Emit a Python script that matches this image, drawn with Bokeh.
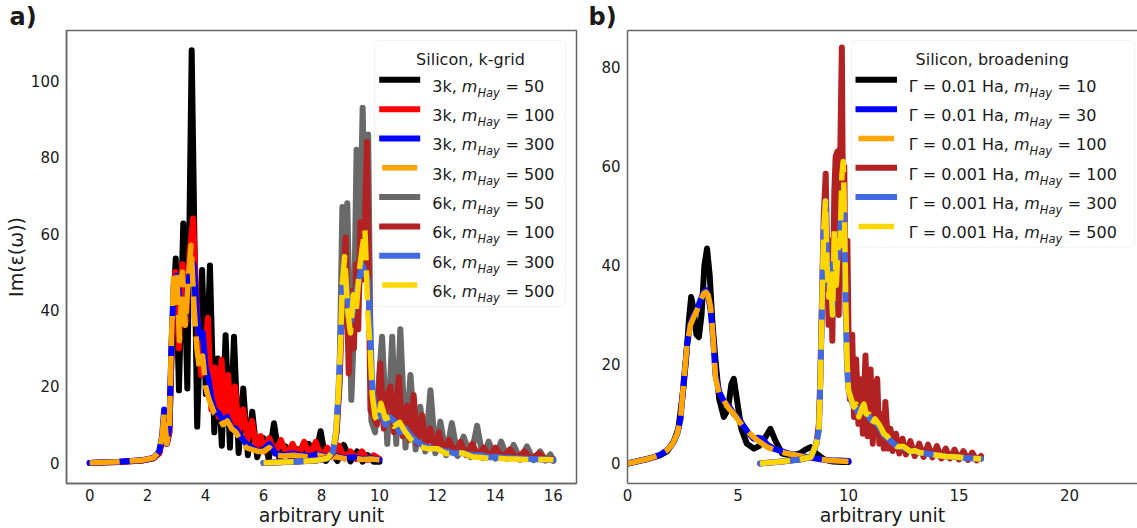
from bokeh.plotting import figure
from bokeh.layouts import row
from bokeh.models import Range1d, FixedTicker, Label, BoxAnnotation, LinearAxis, Title
from bokeh.embed import file_html
from bokeh.resources import INLINE

# ---------------- data ----------------
# panel a) Silicon, k-grid  (x, Im eps)
A_3K_M50 = [(0, 0), (1.0, 0.2), (1.8, 0.6), (2.2, 1.2), (2.4, 2.5), (2.5, 6), (2.58, 12), (2.66, 5), (2.75, 8),
            (2.85, 35), (2.97, 53.5), (3.08, 19), (3.23, 62.7), (3.37, 19.5), (3.52, 108), (3.71, 9.5), (3.88, 50.5),
            (4.01, 18), (4.15, 51.7), (4.3, 8), (4.42, 27.3), (4.56, 4.5), (4.69, 33.4), (4.84, 4), (4.98, 33),
            (5.14, 2.6), (5.3, 19.5), (5.46, 2), (5.61, 13.4), (5.78, 1.5), (6.0, 6.5), (6.18, 1), (6.36, 10.4),
            (6.55, 0.8), (6.76, 4.3), (6.96, 0.8), (7.16, 3.6), (7.36, 0.6), (7.56, 5), (7.76, 0.6), (7.97, 8.3),
            (8.15, 0.5), (8.35, 2.7), (8.55, 0.5), (8.77, 4.7), (9.0, 0.4), (9.23, 3), (9.42, 0.3), (9.6, 2),
            (9.8, 0.3), (10.0, 0.3)]
A_3K_M100 = [(0, 0), (1.0, 0.2), (1.8, 0.6), (2.2, 1.2), (2.4, 2.5), (2.5, 6), (2.58, 13), (2.66, 5), (2.75, 8),
             (2.85, 36), (2.95, 50), (3.08, 30), (3.2, 52), (3.32, 37), (3.45, 55), (3.57, 64), (3.7, 40), (3.85, 23),
             (3.95, 28), (4.08, 38), (4.2, 14), (4.32, 25), (4.45, 12), (4.55, 27), (4.66, 11), (4.78, 23), (4.9, 9),
             (5.02, 20), (5.15, 8), (5.3, 14), (5.45, 6), (5.6, 11), (5.75, 4), (5.9, 7), (6.05, 3), (6.2, 6.5),
             (6.4, 2.5), (6.6, 6), (6.8, 2), (7.0, 5), (7.2, 2), (7.4, 5.5), (7.6, 2), (7.8, 5.5), (8.0, 1.5),
             (8.2, 4), (8.4, 1.5), (8.6, 4.5), (8.8, 1.2), (9.0, 3), (9.2, 1), (9.4, 3), (9.6, 0.8), (9.8, 2),
             (10.0, 1)]
A_3K_M300 = [(0, 0), (1.0, 0.3), (1.8, 0.7), (2.2, 1.3), (2.4, 3), (2.5, 7), (2.57, 14), (2.66, 5), (2.75, 10),
             (2.82, 30), (2.9, 47), (3.0, 49), (3.1, 43), (3.2, 40), (3.3, 38), (3.4, 48), (3.5, 50), (3.6, 52),
             (3.7, 38), (3.8, 33), (3.9, 34), (4.0, 25), (4.1, 22), (4.2, 17), (4.3, 14), (4.45, 13), (4.6, 11),
             (4.75, 12), (4.9, 9), (5.05, 9), (5.2, 7), (5.4, 5), (5.6, 4), (5.8, 3), (6.0, 3.5), (6.2, 5),
             (6.4, 2.5), (6.7, 2), (7.0, 2.5), (7.3, 2), (7.6, 1.8), (7.9, 2.2), (8.2, 1.5), (8.5, 1.8), (8.8, 1.2),
             (9.1, 1.5), (9.4, 1), (9.7, 1.2), (10.0, 0.8)]
A_3K_M500 = [(0, 0), (1.0, 0.3), (1.8, 0.7), (2.2, 1.3), (2.4, 3), (2.5, 7), (2.57, 13), (2.66, 5), (2.75, 10),
             (2.82, 32), (2.9, 50), (3.0, 50), (3.1, 32), (3.2, 50), (3.3, 36), (3.4, 48), (3.5, 57), (3.6, 41),
             (3.7, 30), (3.8, 24), (3.9, 28), (4.0, 20), (4.1, 17), (4.2, 15), (4.3, 13), (4.45, 12), (4.6, 10),
             (4.75, 11), (4.9, 9), (5.05, 8), (5.2, 6), (5.4, 4), (5.6, 3.5), (5.8, 3), (6.0, 3), (6.2, 4),
             (6.4, 2), (6.7, 1.8), (7.0, 2), (7.3, 1.8), (7.6, 1.5), (7.9, 2), (8.2, 1.4), (8.5, 1.6), (8.8, 1.1),
             (9.1, 1.3), (9.4, 0.9), (9.7, 1.0), (10.0, 0.8)]
A_6K_M50 = [(6.0, 0), (7.0, 0.3), (7.8, 0.6), (8.2, 1.2), (8.4, 2.5), (8.52, 8), (8.62, 22), (8.72, 67), (8.8, 45),
            (8.89, 68), (9.03, 16.5), (9.12, 35), (9.21, 82), (9.3, 45), (9.42, 93), (9.52, 55), (9.61, 86),
            (9.72, 11), (9.85, 8), (10.09, 33), (10.27, 5), (10.44, 33), (10.58, 5), (10.72, 35), (10.9, 4),
            (11.07, 23), (11.25, 3.5), (11.41, 14.7), (11.58, 3), (11.76, 19), (11.93, 2.5), (12.1, 10.8),
            (12.3, 2), (12.5, 10.4), (12.7, 1.8), (12.9, 6.9), (13.15, 1.5), (13.37, 9.7), (13.57, 1.3),
            (13.77, 5.6), (14.0, 1.1), (14.2, 5.6), (14.42, 1), (14.63, 4.7), (14.86, 0.8), (15.09, 4.3),
            (15.32, 0.7), (15.55, 3), (15.72, 0.6), (15.9, 2.2), (16.0, 0.5)]
A_6K_M100 = [(6.0, 0), (7.0, 0.3), (7.8, 0.6), (8.2, 1.2), (8.4, 2.5), (8.52, 8), (8.62, 20), (8.72, 42), (8.83, 59),
             (8.94, 23.4), (9.03, 45), (9.12, 30), (9.2, 52), (9.27, 35), (9.34, 63), (9.45, 48), (9.57, 84),
             (9.69, 13.8), (9.8, 12), (9.92, 10), (10.03, 26), (10.15, 9), (10.28, 18), (10.38, 20), (10.5, 8),
             (10.67, 22.5), (10.8, 7), (10.95, 15), (11.05, 6), (11.18, 17.8), (11.3, 5), (11.47, 12.5), (11.6, 4),
             (11.75, 9), (11.9, 3.5), (12.05, 8), (12.2, 3), (12.4, 6), (12.6, 2.5), (12.8, 5.5), (13.0, 2),
             (13.2, 5), (13.4, 2), (13.6, 4), (13.8, 1.5), (14.0, 4), (14.25, 1.5), (14.5, 3.5), (14.75, 1.2),
             (15.0, 3), (15.25, 1), (15.5, 2.5), (15.75, 0.8), (16.0, 1)]
A_6K_M300 = [(6.0, 0), (7.0, 0.3), (7.8, 0.6), (8.2, 1.2), (8.4, 3), (8.5, 8), (8.58, 18), (8.65, 30), (8.72, 45),
             (8.8, 50), (8.9, 44), (9.0, 37), (9.1, 40), (9.2, 45), (9.3, 48), (9.4, 52), (9.5, 50), (9.6, 48),
             (9.68, 36), (9.75, 20), (9.85, 14), (9.95, 12), (10.05, 14), (10.2, 10), (10.35, 12), (10.5, 11),
             (10.7, 8), (10.9, 9), (11.1, 7), (11.3, 5.5), (11.5, 4.5), (11.7, 4), (12.0, 3.5), (12.3, 3),
             (12.6, 2.5), (12.9, 2.5), (13.2, 2), (13.5, 2), (13.8, 1.5), (14.1, 1.5), (14.4, 1.3), (14.7, 1.2),
             (15.0, 1.1), (15.3, 1.0), (15.6, 0.9), (16.0, 0.8)]
A_6K_M500 = [(6.0, 0), (7.0, 0.3), (7.8, 0.6), (8.2, 1.2), (8.4, 3), (8.5, 8), (8.58, 18), (8.65, 30), (8.72, 47),
             (8.8, 54), (8.9, 40), (9.0, 34), (9.1, 44), (9.2, 40), (9.3, 50), (9.4, 56), (9.5, 61), (9.6, 39),
             (9.68, 30), (9.75, 18), (9.85, 12), (9.95, 11), (10.05, 15.6), (10.2, 11.6), (10.35, 12), (10.5, 9.6),
             (10.7, 10.6), (10.9, 8), (11.1, 6), (11.3, 4.8), (11.5, 4), (11.7, 3.7), (12.0, 3.7), (12.3, 2.4),
             (12.6, 2.8), (12.9, 2.5), (13.2, 1.6), (13.5, 1.4), (13.8, 1.2), (14.1, 1.2), (14.4, 1.0), (14.7, 1.0),
             (15.0, 0.9), (15.3, 0.9), (15.6, 0.9), (16.0, 0.8)]

# panel b) Silicon, broadening
B_G01_M10 = [(0, 0), (0.5, 0.5), (1.0, 1.0), (1.5, 1.7), (1.8, 2.5), (2.1, 4.5), (2.3, 7), (2.5, 14), (2.65, 21),
             (2.78, 29), (2.88, 33.6), (3.0, 31), (3.12, 26), (3.23, 25.5), (3.35, 30), (3.48, 40), (3.6, 43.4),
             (3.72, 38), (3.85, 28), (3.98, 21), (4.15, 13), (4.36, 9.4), (4.55, 11), (4.7, 16), (4.81, 17.1),
             (4.95, 13), (5.15, 7), (5.4, 4), (5.72, 3), (5.95, 3.5), (6.2, 5), (6.47, 7), (6.7, 4.5), (7.0, 2),
             (7.4, 1.6), (7.8, 2), (8.05, 2.8), (8.28, 3.3), (8.55, 2), (8.9, 0.8), (9.3, 0.4), (9.7, 0.3),
             (10.0, 0.3)]
B_G01_M30 = [(0, 0), (0.5, 0.5), (1.0, 1.0), (1.5, 1.8), (1.8, 2.7), (2.05, 4), (2.25, 6), (2.4, 9), (2.55, 16.8),
             (2.7, 24), (2.85, 28.5), (3.0, 30), (3.15, 31), (3.3, 33), (3.45, 34.5), (3.55, 35), (3.65, 34),
             (3.76, 31), (3.88, 25), (3.98, 18), (4.15, 14.5), (4.36, 12.5), (4.6, 11.5), (4.81, 10), (5.05, 9),
             (5.26, 7.5), (5.5, 6), (5.71, 5), (5.9, 5.2), (6.1, 5.0), (6.32, 3.8), (6.6, 3.0), (6.9, 2.6),
             (7.23, 2.1), (7.6, 1.7), (8.0, 1.4), (8.4, 1.1), (8.8, 0.8), (9.2, 0.6), (9.6, 0.6), (10.0, 0.5)]
B_G01_M100 = [(0, 0), (0.5, 0.5), (1.0, 1.0), (1.5, 1.8), (1.8, 2.7), (2.05, 4), (2.25, 6), (2.4, 9), (2.55, 16.8),
              (2.7, 24), (2.85, 28), (3.0, 29.6), (3.15, 31), (3.3, 32.9), (3.45, 34.3), (3.55, 34.6), (3.65, 34),
              (3.76, 31.6), (3.88, 25), (3.98, 17.4), (4.15, 14), (4.36, 12.7), (4.6, 11), (4.81, 10), (5.05, 8.5),
              (5.26, 7.3), (5.5, 6.2), (5.71, 5.3), (5.9, 4.6), (6.1, 4), (6.32, 3.3), (6.6, 2.8), (6.9, 2.4),
              (7.23, 2), (7.6, 1.7), (8.0, 1.3), (8.4, 1.0), (8.8, 0.8), (9.2, 0.6), (9.6, 0.5), (10.0, 0.4)]
B_G001_M100 = [(6.0, 0), (7.0, 0.4), (7.8, 0.8), (8.3, 1.3), (8.55, 4), (8.66, 8), (8.73, 18), (8.81, 35), (8.88, 50),
               (8.97, 58.5), (9.04, 40), (9.1, 28), (9.18, 45), (9.27, 24.8), (9.36, 55), (9.42, 62), (9.5, 63),
               (9.56, 30), (9.62, 60), (9.7, 84), (9.76, 45), (9.81, 60), (9.88, 30), (9.95, 45), (10.0, 27),
               (10.06, 13), (10.17, 26), (10.25, 9.4), (10.35, 21), (10.45, 8), (10.55, 17), (10.65, 6),
               (10.77, 21.8), (10.87, 5.5), (11.0, 19), (11.1, 4), (11.2, 14), (11.3, 17.1), (11.4, 4), (11.5, 10),
               (11.6, 3), (11.67, 12.4), (11.8, 3), (11.9, 7), (12.0, 2.5), (12.15, 6), (12.3, 2), (12.45, 5),
               (12.6, 1.8), (12.8, 4.5), (13.0, 1.5), (13.2, 4), (13.4, 1.3), (13.6, 3.8), (13.8, 1.2), (14.0, 3.5),
               (14.2, 1), (14.4, 3), (14.6, 1), (14.8, 2.8), (15.0, 0.8), (15.2, 2.5), (15.4, 0.7), (15.6, 2.2),
               (15.8, 0.6), (16.0, 1.5)]
B_G001_M300 = [(6.0, 0), (7.0, 0.4), (7.8, 0.8), (8.3, 1.3), (8.55, 4), (8.66, 6.7), (8.73, 16.8), (8.81, 33.6),
               (8.88, 47), (8.96, 53), (9.03, 41), (9.11, 36), (9.2, 40), (9.28, 30), (9.36, 45), (9.45, 38),
               (9.54, 43), (9.62, 46), (9.7, 53), (9.76, 55), (9.82, 46), (9.88, 30), (9.94, 19), (10.0, 15),
               (10.1, 13), (10.24, 11.5), (10.35, 11), (10.47, 10), (10.6, 11.5), (10.7, 11), (10.8, 10),
               (10.92, 9.5), (11.07, 8.5), (11.2, 8.5), (11.37, 7.5), (11.5, 6.5), (11.6, 5.8), (11.75, 5.2),
               (11.9, 4.6), (12.05, 4), (12.2, 3.4), (12.5, 3.2), (12.8, 2.5), (13.0, 2.5), (13.2, 2.2), (13.5, 2.0),
               (13.8, 1.8), (14.1, 1.6), (14.4, 1.4), (14.9, 1.3), (15.3, 1.1), (15.7, 1.0), (16.0, 0.9)]
B_G001_M500 = [(6.0, 0), (7.0, 0.4), (7.8, 0.8), (8.3, 1.3), (8.55, 4), (8.66, 6.7), (8.73, 16.8), (8.81, 33.6),
               (8.88, 47), (8.96, 53), (9.03, 40), (9.11, 33.6), (9.2, 38), (9.28, 30), (9.36, 47), (9.45, 36),
               (9.54, 45), (9.62, 44), (9.7, 58), (9.76, 61), (9.82, 50), (9.88, 32), (9.94, 20), (10.0, 14.7),
               (10.1, 13.4), (10.24, 11.4), (10.35, 12), (10.47, 9.4), (10.6, 11), (10.7, 12), (10.8, 10),
               (10.92, 10), (11.07, 8), (11.2, 9), (11.37, 8), (11.5, 7), (11.6, 6), (11.75, 5.5), (11.9, 4.7),
               (12.05, 4), (12.2, 3.4), (12.5, 3.4), (12.8, 2.4), (13.0, 2.6), (13.2, 2.2), (13.5, 2.0), (13.8, 1.8),
               (14.1, 1.6), (14.4, 1.4), (14.9, 1.3), (15.3, 1.1), (15.7, 1.0), (16.0, 0.9)]

A_XTICKS = [0, 2, 4, 6, 8, 10, 12, 14, 16]
A_YTICKS = [0, 20, 40, 60, 80, 100]
B_XTICKS = [0, 5, 10, 15, 20]
B_YTICKS = [0, 20, 40, 60, 80]

# series: (data, legend prefix, m_Hay value, colour, dashed)
SERIES_A = [(A_3K_M50, "3k, ", "50", "#000000", False),
            (A_3K_M100, "3k, ", "100", "#ff0000", False),
            (A_3K_M300, "3k, ", "300", "#0000ff", False),
            (A_3K_M500, "3k, ", "500", "#ffa500", True),
            (A_6K_M50, "6k, ", "50", "#696969", False),
            (A_6K_M100, "6k, ", "100", "#b22222", False),
            (A_6K_M300, "6k, ", "300", "#4169e1", False),
            (A_6K_M500, "6k, ", "500", "#ffd700", True)]
SERIES_B = [(B_G01_M10, "Γ = 0.01 Ha, ", "10", "#000000", False),
            (B_G01_M30, "Γ = 0.01 Ha, ", "30", "#0000ff", False),
            (B_G01_M100, "Γ = 0.01 Ha, ", "100", "#ffa500", True),
            (B_G001_M100, "Γ = 0.001 Ha, ", "100", "#b22222", False),
            (B_G001_M300, "Γ = 0.001 Ha, ", "300", "#4169e1", False),
            (B_G001_M500, "Γ = 0.001 Ha, ", "500", "#ffd700", True)]

# ---------------- styling / layout ----------------
FONT = "DejaVu Sans"
AX = "#666666"
TXT = "#1a1a1a"
DASH = "30 10"

ADV = {"0": .636, "1": .636, "2": .636, "3": .636, "4": .636, "5": .636, "6": .636, "7": .636, "8": .636,
       "9": .636, ".": .318, ",": .318, " ": .318, "k": .579, "H": .752, "a": .613, "y": .592, "m": .974,
       "=": .838, "Γ": .557}


def tw(s, size):
    return sum(ADV.get(c, 0.6) for c in s) * size


def make_map(x0, x1, y0, y1, left, top, w, h):
    def f(px, py):
        return (x0 + (px - left) / w * (x1 - x0), y0 + (top + h - py) / h * (y1 - y0))
    return f


def style(xax, yax):
    for ax in (xax, yax):
        ax.axis_line_color = AX
        ax.axis_line_width = 1.5
        ax.major_tick_out = 0
        ax.major_tick_in = 0
        ax.minor_tick_out = 0
        ax.minor_tick_in = 0
        ax.major_label_text_font = FONT
        ax.major_label_text_font_size = "15px"
        ax.major_label_text_color = TXT
        ax.axis_label_text_font = FONT
        ax.axis_label_text_font_size = "19px"
        ax.axis_label_text_font_style = "normal"
        ax.axis_label_text_color = TXT
    xax.major_label_standoff = 5
    xax.axis_label_standoff = 0
    yax.major_label_standoff = 7
    yax.axis_label_standoff = 1


def draw_series(p, series):
    for pts, _, _, color, dashed in series:
        xs = [q[0] for q in pts]
        ys = [q[1] for q in pts]
        if dashed:
            p.line(xs, ys, line_color=color, line_width=5.5, line_dash=DASH, line_join="round", line_cap="butt")
        else:
            p.line(xs, ys, line_color=color, line_width=6, line_join="round", line_cap="round")


def lab(p, f, px, py, text, size, style_="normal", align="left"):
    x, y = f(px, py)
    p.add_layout(Label(x=x, y=y, text=text, text_font=FONT, text_font_size=f"{size}px",
                       text_font_style=style_, text_color=TXT, text_align=align,
                       text_baseline="alphabetic"))


def draw_legend(p, f, box, title, title_cx, series, sample, text_x0):
    l, t, r, b = box
    (x0, y0), (x1, y1) = f(l, b), f(r, t)
    p.add_layout(BoxAnnotation(left=x0, right=x1, bottom=y0, top=y1, fill_color="white", fill_alpha=0.85,
                               line_color="#d3d3d3", line_width=1, border_radius=4))
    lab(p, f, title_cx, 59.3, title, 16, align="center")
    for i, (_, prefix, mval, color, dashed) in enumerate(series):
        yb = 85.7 + 29.33 * i
        yc = yb - 6.4
        (sx0, sy), (sx1, _) = f(sample[0], yc), f(sample[1], yc)
        p.line([sx0, sx1], [sy, sy], line_color=color, line_width=5.5 if dashed else 6,
               line_cap="butt" if dashed else "square", level="overlay")
        xm = text_x0 + tw(prefix, 16)
        xh = xm + tw("m", 16)
        xe = xh + tw("Hay", 11.5) + 5.5
        lab(p, f, text_x0, yb, prefix.rstrip(), 16)
        lab(p, f, xm, yb, "m", 16, "italic")
        lab(p, f, xh, yb + 6.5, "Hay", 11.5, "italic")
        lab(p, f, xe, yb, "= " + mval, 16)


def panel_tag(p, text, offset):
    p.add_layout(Title(text=text, align="left", offset=offset, standoff=0, text_font=FONT,
                       text_font_size="24px", text_font_style="bold", text_color=TXT), "above")


# ---------------- panel a ----------------
AXR = (-0.8, 16.8)
AYR = (-5.4, 113.2)
pa = figure(frame_width=510, frame_height=453, min_border_left=66, min_border_right=8,
            min_border_top=30, min_border_bottom=45, x_range=Range1d(*AXR), y_range=Range1d(*AYR),
            output_backend="svg", toolbar_location=None, background_fill_color="white",
            border_fill_color="white")
pa.outline_line_color = AX
pa.outline_line_width = 1.5
pa.xgrid.visible = False
pa.ygrid.visible = False
ax_a_bottom = pa.below[0]
ax_a_left = pa.left[0]
style(ax_a_bottom, ax_a_left)
ax_a_bottom.ticker = FixedTicker(ticks=A_XTICKS)
ax_a_left.ticker = FixedTicker(ticks=A_YTICKS)
ax_a_bottom.axis_label = "arbitrary unit"
ax_a_left.axis_label = "Im(ε(ω))"
draw_series(pa, SERIES_A)
fa = make_map(AXR[0], AXR[1], AYR[0], AYR[1], 66, 30, 510, 453)
draw_legend(pa, fa, (374, 40, 565, 306), "Silicon, k-grid", 470, SERIES_A, (381.7, 416.7), 431.7)
panel_tag(pa, "a)", -57)

# ---------------- panel b ----------------
BXR = (0, 23.08)
BYR = (-4.05, 87.45)
pb = figure(frame_width=510, frame_height=453, min_border_left=43, min_border_right=0,
            min_border_top=30, min_border_bottom=45, x_range=Range1d(*BXR), y_range=Range1d(*BYR),
            output_backend="svg", toolbar_location=None, background_fill_color="white",
            border_fill_color="white")
pb.outline_line_color = None
pb.xgrid.visible = False
pb.ygrid.visible = False
ax_b_bottom = pb.below[0]
ax_b_left = pb.left[0]
style(ax_b_bottom, ax_b_left)
ax_b_bottom.ticker = FixedTicker(ticks=B_XTICKS)
ax_b_left.ticker = FixedTicker(ticks=B_YTICKS)
ax_b_bottom.axis_label = "arbitrary unit"
top_axis = LinearAxis(ticker=FixedTicker(ticks=[]), axis_line_color=AX, axis_line_width=1.5,
                      major_tick_out=0, minor_tick_out=0, major_tick_in=0, minor_tick_in=0,
                      major_label_standoff=0, axis_label_standoff=0)
pb.add_layout(top_axis, "above")
draw_series(pb, SERIES_B)
fb = make_map(BXR[0], BXR[1], BYR[0], BYR[1], 627, 30, 510, 453)
draw_legend(pb, fb, (851, 40, 1134, 246.7), "Silicon, broadening", 991.7, SERIES_B, (858, 893.5), 908.3)
panel_tag(pb, "b)", -39)

layout = row(pa, pb)
open("out.html", "w").write(file_html(layout, INLINE))
